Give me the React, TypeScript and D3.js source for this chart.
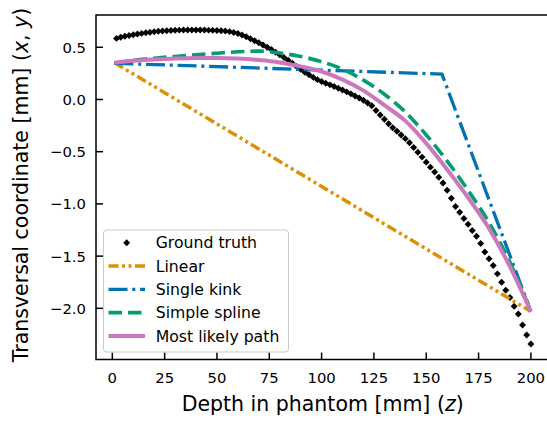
import React from 'react';
import * as d3 from 'd3';

// Ground truth (diamond markers), every 2 mm in depth
const truthDepth = [
  2, 4, 6, 8, 10, 12, 14, 16, 18, 20, 22, 24, 26, 28, 30, 32, 34, 36, 38, 40,
  42, 44, 46, 48, 50, 52, 54, 56, 58, 60, 62, 64, 66, 68, 70, 72, 74, 76, 78, 80,
  82, 84, 86, 88, 90, 92, 94, 96, 98, 100, 102, 104, 106, 108, 110, 112, 114, 116, 118, 120,
  122, 124, 126, 128, 130, 132, 134, 136, 138, 140, 142, 144, 146, 148, 150, 152, 154, 156, 158, 160,
  162, 164, 166, 168, 170, 172, 174, 176, 178, 180, 182, 184, 186, 188, 190, 192, 194, 196, 198, 200
];
const truthY = [
  0.585, 0.596, 0.605, 0.613, 0.620, 0.627, 0.633, 0.639, 0.644, 0.649,
  0.653, 0.656, 0.659, 0.661, 0.663, 0.664, 0.665, 0.666, 0.666, 0.666,
  0.666, 0.665, 0.664, 0.662, 0.660, 0.658, 0.655, 0.650, 0.642, 0.632,
  0.618, 0.600, 0.582, 0.563, 0.543, 0.522, 0.500, 0.478, 0.453, 0.428,
  0.402, 0.375, 0.347, 0.317, 0.288, 0.261, 0.236, 0.212, 0.190, 0.172,
  0.156, 0.140, 0.124, 0.108, 0.091, 0.073, 0.054, 0.034, 0.014, -0.008,
  -0.033, -0.060, -0.105, -0.148, -0.190, -0.232, -0.270, -0.305, -0.340, -0.375,
  -0.415, -0.460, -0.505, -0.552, -0.600, -0.648, -0.695, -0.745, -0.800, -0.870,
  -0.945, -1.025, -1.080, -1.140, -1.195, -1.255, -1.310, -1.380, -1.460, -1.525,
  -1.590, -1.670, -1.750, -1.826, -1.897, -1.980, -2.055, -2.160, -2.256, -2.342
];

// model paths
const linearDepth = [1, 200];
const linearY = [0.352, -2.03];

const kinkDepth = [1, 157.5, 200];
const kinkY = [0.347, 0.243, -2.03];

const curveDepth = [1, 10, 20, 30, 40, 50, 60, 70, 80, 90, 100, 110, 120, 130, 140, 150, 160, 170, 180, 190, 200];
const splineY = [0.350, 0.375, 0.395, 0.412, 0.428, 0.443, 0.457, 0.463, 0.445, 0.412, 0.362, 0.290, 0.185, 0.050, -0.120, -0.340, -0.590, -0.870, -1.180, -1.560, -2.030];
const mlpY = [0.352, 0.370, 0.383, 0.392, 0.397, 0.398, 0.392, 0.378, 0.355, 0.317, 0.268, 0.190, 0.085, -0.055, -0.205, -0.420, -0.670, -0.940, -1.235, -1.600, -2.030];

const xTicks = [0, 25, 50, 75, 100, 125, 150, 175, 200];
const yTicks = [0.5, 0.0, -0.5, -1.0, -1.5, -2.0];

const W = 547;
const H = 423;
const left = 96, right = 549.3, top = 15, bottom = 359.5;
const FONT = 'DejaVu Sans';

const x = d3.scaleLinear().domain([-7.8, 208.8]).range([left, right]);
const y = d3.scaleLinear().domain([-2.49, 0.809]).range([bottom, top]);

const toPts = (zs: number[], ys: number[]) => zs.map((z, i) => [z, ys[i]] as [number, number]);

const straight = d3.line<[number, number]>().x(d => x(d[0])).y(d => y(d[1]));
const smooth = d3.line<[number, number]>().x(d => x(d[0])).y(d => y(d[1])).curve(d3.curveMonotoneX);

const diamond = d3.symbol(d3.symbolSquare, 24)();
const fmt = (v: number) => v.toFixed(1).replace('-', '\u2212');

const series = [
  { name: 'Linear', color: '#DE8F05', width: 3.5, dash: '10,3.5,3,3.5,3,3.5', d: straight(toPts(linearDepth, linearY)) },
  { name: 'Single kink', color: '#0173B2', width: 3.3, dash: '19,4.8,3,4.8', d: straight(toPts(kinkDepth, kinkY)) },
  { name: 'Simple spline', color: '#029E73', width: 3.6, dash: '13.5,6', d: smooth(toPts(curveDepth, splineY)) },
  { name: 'Most likely path', color: '#CC78BC', width: 4, dash: null, d: smooth(toPts(curveDepth, mlpY)) },
];

export default function App() {
  const legX = 103.5, legY = 230;
  const rowY = (i: number) => 242.7 + i * 23.3;
  return (
    <div style={{ position: 'fixed', left: 0, top: 0 }}>
      <svg width={W} height={H} style={{ display: 'block', background: '#fff' }} fontFamily={FONT}>
        <defs>
          <clipPath id="plotArea">
            <rect x={left} y={top} width={right - left} height={bottom - top} />
          </clipPath>
        </defs>

        <g clipPath="url(#plotArea)">
          {truthDepth.map((z, i) => (
            <path key={i} d={diamond!} fill="#000"
              transform={`translate(${x(z)},${y(truthY[i])}) rotate(45)`} />
          ))}
          {series.map(s => (
            <path key={s.name} d={s.d!} fill="none" stroke={s.color} strokeWidth={s.width}
              strokeDasharray={s.dash ?? undefined} />
          ))}
        </g>

        {/* spines */}
        <path d={`M${right},${top}H${left}V${bottom}H${right}`} fill="none" stroke="#000" strokeWidth={1.5} />

        {/* x ticks */}
        {xTicks.map(t => (
          <g key={t} transform={`translate(${x(t)},0)`}>
            <line y1={bottom} y2={bottom - 7} stroke="#000" strokeWidth={1.5} />
            <text y={382.5} textAnchor="middle" fontSize={14.8}>{t}</text>
          </g>
        ))}
        {/* y ticks */}
        {yTicks.map(t => (
          <g key={t} transform={`translate(0,${y(t)})`}>
            <line x1={left} x2={left + 7} stroke="#000" strokeWidth={1.5} />
            <text x={86} y={5.4} textAnchor="end" fontSize={14.8}>{fmt(t)}</text>
          </g>
        ))}

        <text x={(left + right) / 2} y={411} textAnchor="middle" fontSize={20.5}>
          Depth in phantom [mm] (<tspan fontStyle="italic">z</tspan>)
        </text>
        <text transform={`translate(28,185) rotate(-90)`} textAnchor="middle" fontSize={20.5}>
          Transversal coordinate [mm] (<tspan fontStyle="italic">x</tspan>, <tspan fontStyle="italic">y</tspan>)
        </text>

        {/* legend */}
        <rect x={legX} y={legY} width={185} height={122} rx={3} fill="#fff" fillOpacity={0.8}
          stroke="#cccccc" strokeWidth={1} />
        <path d={diamond!} fill="#000" transform={`translate(126.7,${rowY(0)}) rotate(45)`} />
        <text x={155.7} y={rowY(0) + 5.6} fontSize={15.7}>Ground truth</text>
        {series.map((s, i) => (
          <g key={s.name}>
            <line x1={108.5} x2={145} y1={rowY(i + 1)} y2={rowY(i + 1)} stroke={s.color}
              strokeWidth={s.width} strokeDasharray={s.dash ?? undefined} />
            <text x={155.7} y={rowY(i + 1) + 5.6} fontSize={15.7}>{s.name}</text>
          </g>
        ))}
      </svg>
    </div>
  );
}
